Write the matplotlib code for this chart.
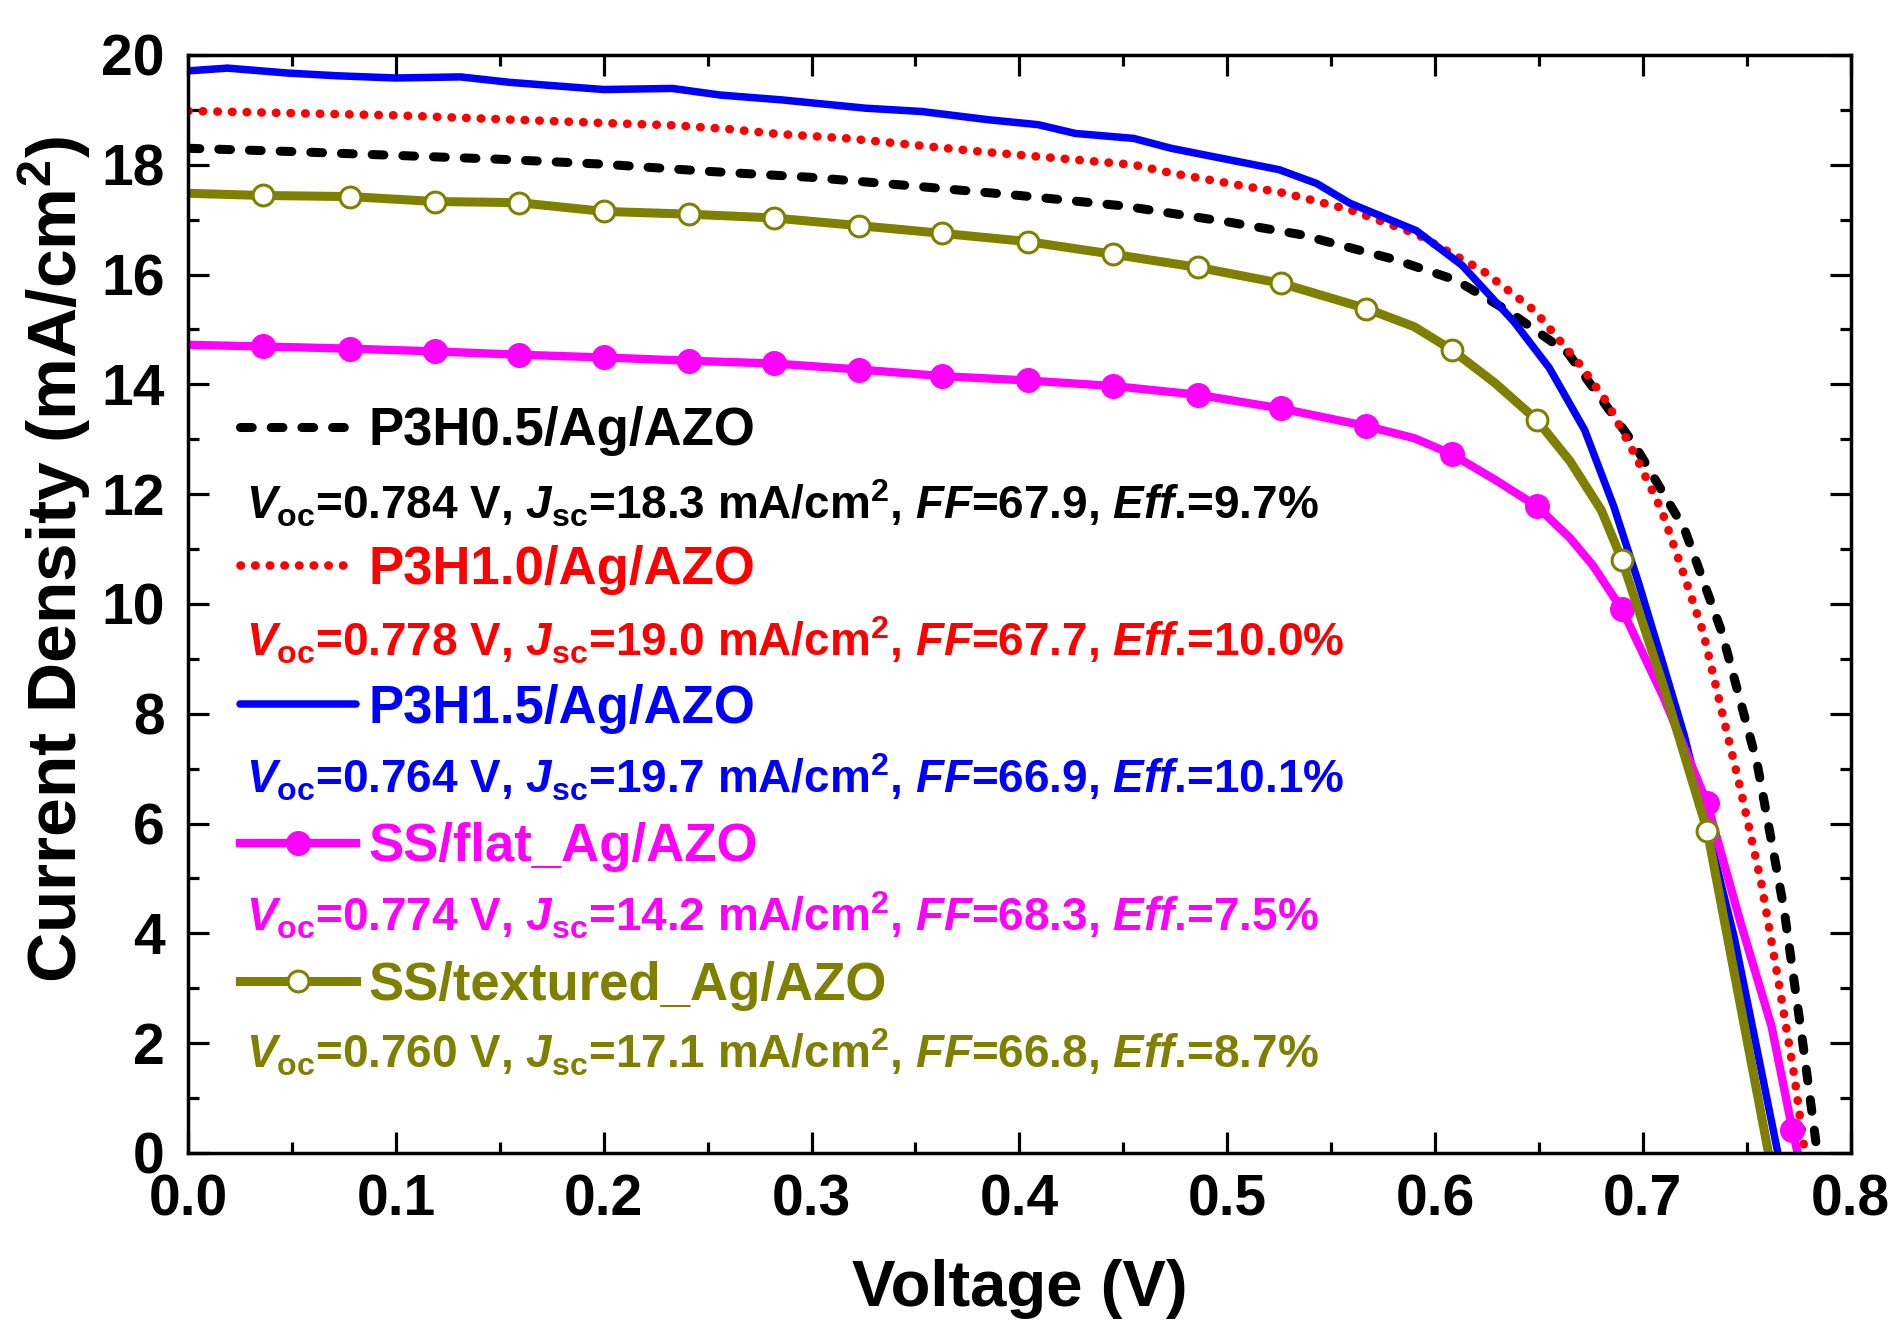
import matplotlib
matplotlib.use("Agg")
import matplotlib.pyplot as plt
from matplotlib.ticker import MultipleLocator, FormatStrFormatter

plt.rcParams['font.family'] = ['Liberation Sans', 'DejaVu Sans']
plt.rcParams['font.weight'] = 'bold'
plt.rcParams['mathtext.fontset'] = 'custom'
plt.rcParams['mathtext.rm'] = 'Liberation Sans:bold'
plt.rcParams['mathtext.it'] = 'Liberation Sans:italic:bold'
plt.rcParams['mathtext.bf'] = 'Liberation Sans:bold'

# J-V data (V in volts, J in mA/cm2)
v_p05 = [0.000, 0.050, 0.100, 0.150, 0.200, 0.250, 0.300, 0.350, 0.400, 0.450, 0.500, 0.535,
         0.580, 0.610, 0.635, 0.664, 0.696, 0.720, 0.738, 0.755, 0.768, 0.777, 0.784]
j_p05 = [18.30, 18.24, 18.17, 18.10, 18.01, 17.88, 17.77, 17.61, 17.44, 17.25, 16.96, 16.73,
         16.28, 15.90, 15.34, 14.57, 12.90, 11.37, 9.49, 7.10, 4.43, 2.00, 0.00]

v_p10 = [0.000, 0.050, 0.100, 0.150, 0.200, 0.233, 0.260, 0.284, 0.317, 0.344, 0.381, 0.418,
         0.455, 0.473, 0.501, 0.528, 0.559, 0.591, 0.623, 0.648, 0.670, 0.683, 0.697, 0.709,
         0.718, 0.729, 0.738, 0.747, 0.757, 0.766, 0.773, 0.778]
j_p10 = [18.98, 18.94, 18.90, 18.83, 18.76, 18.72, 18.65, 18.56, 18.48, 18.38, 18.24, 18.12,
         18.00, 17.85, 17.66, 17.48, 17.18, 16.74, 16.07, 15.34, 14.35, 13.66, 12.66, 11.71,
         10.73, 9.49, 8.05, 6.63, 4.92, 2.97, 1.38, 0.00]

v_p15 = [0.000, 0.019, 0.048, 0.072, 0.100, 0.131, 0.155, 0.200, 0.233, 0.256, 0.286, 0.326,
         0.353, 0.385, 0.409, 0.427, 0.455, 0.473, 0.501, 0.525, 0.543, 0.559, 0.591, 0.613,
         0.638, 0.655, 0.672, 0.686, 0.698, 0.709, 0.720, 0.744, 0.755, 0.765]
j_p15 = [19.71, 19.76, 19.67, 19.62, 19.58, 19.60, 19.50, 19.37, 19.39, 19.27, 19.18, 19.03,
         18.97, 18.82, 18.73, 18.57, 18.48, 18.30, 18.09, 17.91, 17.66, 17.30, 16.80, 16.17,
         15.14, 14.30, 13.17, 11.78, 10.38, 9.00, 7.60, 3.93, 1.88, 0.00]

v_flat = [0.000, 0.036, 0.078, 0.119, 0.159, 0.200, 0.241, 0.282, 0.323, 0.363, 0.404, 0.445,
          0.486, 0.526, 0.567, 0.590, 0.608, 0.629, 0.649, 0.665, 0.676, 0.690, 0.710, 0.731,
          0.747, 0.762, 0.772, 0.7745]
j_flat = [14.72, 14.69, 14.65, 14.60, 14.54, 14.49, 14.43, 14.38, 14.27, 14.15, 14.07, 13.97,
          13.81, 13.56, 13.24, 13.02, 12.73, 12.26, 11.78, 11.20, 10.70, 9.90, 8.30, 6.37,
          4.20, 2.30, 0.42, 0.00]
mark_flat = [1, 2, 3, 4, 5, 6, 7, 8, 9, 10, 11, 12, 13, 14, 16, 18, 21, 23, 26]

v_tex = [0.000, 0.036, 0.078, 0.119, 0.159, 0.200, 0.241, 0.282, 0.323, 0.363, 0.404, 0.445,
         0.486, 0.526, 0.567, 0.590, 0.608, 0.629, 0.649, 0.665, 0.680, 0.690, 0.710, 0.731,
         0.7605]
j_tex = [17.48, 17.44, 17.42, 17.33, 17.31, 17.15, 17.10, 17.03, 16.89, 16.75, 16.60, 16.37,
         16.13, 15.84, 15.38, 15.05, 14.63, 14.02, 13.35, 12.60, 11.71, 10.80, 8.50, 5.87, 0.00]
mark_tex = [1, 2, 3, 4, 5, 6, 7, 8, 9, 10, 11, 12, 13, 14, 16, 18, 21, 23]

names = ['P3H0.5/Ag/AZO', 'P3H1.0/Ag/AZO', 'P3H1.5/Ag/AZO', 'SS/flat_Ag/AZO', 'SS/textured_Ag/AZO']
colors = ['black', '#FF0000', '#0000FF', '#FF00FF', '#808000']
voc = ['0.784', '0.778', '0.764', '0.774', '0.760']
jsc = ['18.3', '19.0', '19.7', '14.2', '17.1']
ff = ['67.9', '67.7', '66.9', '68.3', '66.8']
eff = ['9.7', '10.0', '10.1', '7.5', '8.7']

fig = plt.figure(figsize=(19, 13.4), dpi=100)
ax = fig.add_axes([0.099, 0.1396, 0.875, 0.8194])

ax.plot(v_p05, j_p05, color=colors[0], lw=6.5, linestyle=(0, (1.3, 2.1)),
        dash_capstyle='round', label=names[0])
ax.plot(v_p10, j_p10, color=colors[1], lw=6.2, linestyle=(0, (0.05, 1.65)),
        dash_capstyle='round', label=names[1])
ax.plot(v_p15, j_p15, color=colors[2], lw=5.4, solid_capstyle='round', label=names[2])
ax.plot(v_flat, j_flat, color=colors[3], lw=6, marker='o', markersize=17,
        markevery=mark_flat, label=names[3])
ax.plot(v_tex, j_tex, color=colors[4], lw=6.5, marker='o', markersize=15,
        markerfacecolor='white', markeredgewidth=2.2, markevery=mark_tex, label=names[4])

ax.set_xlim(0, 0.8)
ax.set_ylim(0, 20)
ax.xaxis.set_major_locator(MultipleLocator(0.1))
ax.xaxis.set_minor_locator(MultipleLocator(0.05))
ax.yaxis.set_major_locator(MultipleLocator(2))
ax.yaxis.set_minor_locator(MultipleLocator(1))
ax.xaxis.set_major_formatter(FormatStrFormatter('%.1f'))

ax.tick_params(which='both', direction='in', top=True, right=True, width=2.3)
ax.tick_params(which='major', length=15)
ax.tick_params(which='minor', length=8)
ax.tick_params(axis='x', labelsize=41, pad=15)
ax.tick_params(axis='y', labelsize=41, pad=17)
for sp in ax.spines.values():
    sp.set_linewidth(2.5)

ax.set_xlabel('Voltage (V)', fontsize=47, fontweight='bold')
ax.set_ylabel(r'Current Density (mA/cm$^\mathrm{2}$)', fontsize=50, fontweight='bold')
ax.xaxis.set_label_coords(0.5, -0.097)
ax.yaxis.set_label_coords(-0.057, 0.54)

leg = ax.legend(loc='upper left', bbox_to_anchor=(0.031, 0.68), frameon=False,
                prop={'size': 38, 'weight': 'bold'}, handlelength=2.2,
                handletextpad=0.25, labelspacing=1.68, numpoints=1,
                borderaxespad=0, borderpad=0)
for txt, c in zip(leg.get_texts(), colors):
    txt.set_color(c)

# performance lines under each legend entry
for i in range(5):
    s = (r'$V_\mathrm{oc}$=' + voc[i] + r' V, $J_\mathrm{sc}$=' + jsc[i]
         + r' mA/cm$^\mathrm{2}$, $FF$=' + ff[i] + r', $Eff$.=' + eff[i] + '%')
    ax.text(0.028, 11.54 - 2.5 * i, s, color=colors[i], fontsize=33,
            fontweight='bold', ha='left', va='baseline')

fig.savefig('out.png', dpi=100)
